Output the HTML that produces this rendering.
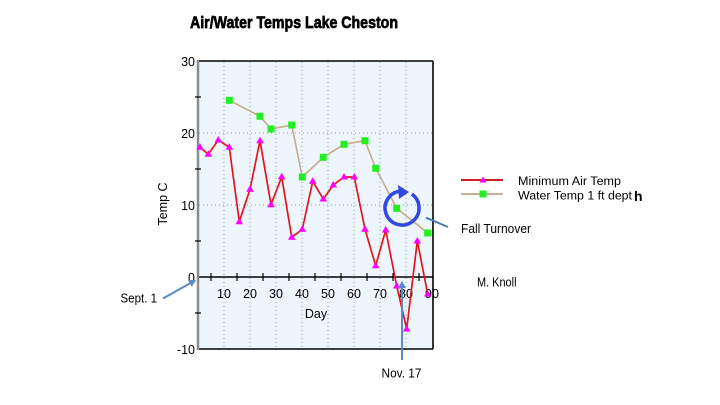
<!DOCTYPE html>
<html><head><meta charset="utf-8"><style>
html,body{margin:0;padding:0;background:#fff;}
svg{display:block;font-family:"Liberation Sans",Arial,sans-serif;}
</style></head><body>
<svg width="720" height="405" viewBox="0 0 720 405" xmlns="http://www.w3.org/2000/svg">
<defs>
<marker id="ah" markerWidth="8" markerHeight="8" refX="6" refY="4" orient="auto" markerUnits="userSpaceOnUse">
<path d="M0,0 L7,4 L0,8 z" fill="#5a8ac6"/>
</marker>
</defs>
<rect width="720" height="405" fill="#fff"/>
<!-- title -->
<text x="190" y="28" font-family="'Liberation Sans Narrow','Liberation Sans',sans-serif" font-weight="bold" font-size="17" textLength="208" lengthAdjust="spacingAndGlyphs" fill="#000" stroke="#000" stroke-width="0.7">Air/Water Temps Lake Cheston</text>
<!-- plot bg -->
<rect x="198" y="61" width="235" height="288" fill="#eef6fd"/>
<!-- grid -->
<g stroke="#9a9a9a" stroke-width="1" stroke-dasharray="1,3">
<line x1="224" y1="62" x2="224" y2="348"/>
<line x1="250" y1="62" x2="250" y2="348"/>
<line x1="276" y1="62" x2="276" y2="348"/>
<line x1="302" y1="62" x2="302" y2="348"/>
<line x1="328" y1="62" x2="328" y2="348"/>
<line x1="354" y1="62" x2="354" y2="348"/>
<line x1="380" y1="62" x2="380" y2="348"/>
<line x1="406" y1="62" x2="406" y2="348"/>
<line x1="199" y1="133" x2="432" y2="133"/>
<line x1="199" y1="205" x2="432" y2="205"/>
</g>
<!-- borders -->
<g stroke="#000" stroke-width="1.6" fill="none">
<line x1="198" y1="61" x2="433" y2="61"/>
<line x1="433" y1="61" x2="433" y2="349"/>
<line x1="198" y1="349" x2="433" y2="349"/>
<line x1="198" y1="277" x2="433" y2="277"/>
</g>
<line x1="198" y1="60" x2="198" y2="350" stroke="#8c8c8c" stroke-width="2.5"/>
<!-- y minor ticks -->
<g stroke="#000" stroke-width="1.2">
<line x1="195" y1="97" x2="201" y2="97"/>
<line x1="195" y1="169" x2="201" y2="169"/>
<line x1="195" y1="241" x2="201" y2="241"/>
<line x1="195" y1="313" x2="201" y2="313"/>
</g>
<!-- x ticks -->
<g stroke="#000" stroke-width="1.2">
<line x1="211" y1="273" x2="211" y2="281"/>
<line x1="237" y1="273" x2="237" y2="281"/>
<line x1="263" y1="273" x2="263" y2="281"/>
<line x1="289" y1="273" x2="289" y2="281"/>
<line x1="315" y1="273" x2="315" y2="281"/>
<line x1="341" y1="273" x2="341" y2="281"/>
<line x1="367" y1="273" x2="367" y2="281"/>
<line x1="393" y1="273" x2="393" y2="281"/>
<line x1="419" y1="273" x2="419" y2="281"/>
</g>
<!-- y labels -->
<g font-size="12.5" fill="#000" text-anchor="end">
<text x="195" y="66">30</text>
<text x="195" y="138">20</text>
<text x="195" y="210">10</text>
<text x="195" y="282">0</text>
<text x="195" y="354">-10</text>
</g>
<!-- x labels -->
<g font-size="12.5" fill="#000" text-anchor="middle">
<text x="224" y="298">10</text>
<text x="250" y="298">20</text>
<text x="276" y="298">30</text>
<text x="302" y="298">40</text>
<text x="328" y="298">50</text>
<text x="354" y="298">60</text>
<text x="380" y="298">70</text>
<text x="406" y="298">80</text>
<text x="432" y="298">90</text>
<text x="316" y="318">Day</text>
</g>
<text transform="translate(167,204) rotate(-90)" font-size="12.5" text-anchor="middle" fill="#000">Temp C</text>
<!-- water series -->
<polyline fill="none" stroke="#c8ab8a" stroke-width="1.6" points="229.3,100.3 260,116.3 271,129 291.7,125 302.3,177 323.3,157.3 344,144.3 365,140.7 375.7,168.3 396.7,208.3 427.7,233"/>
<g fill="#22ee22">
<rect x="225.8" y="96.8" width="7" height="7"/>
<rect x="256.5" y="112.8" width="7" height="7"/>
<rect x="267.5" y="125.5" width="7" height="7"/>
<rect x="288.2" y="121.5" width="7" height="7"/>
<rect x="298.8" y="173.5" width="7" height="7"/>
<rect x="319.8" y="153.8" width="7" height="7"/>
<rect x="340.5" y="140.8" width="7" height="7"/>
<rect x="361.5" y="137.2" width="7" height="7"/>
<rect x="372.2" y="164.8" width="7" height="7"/>
<rect x="393.2" y="204.8" width="7" height="7"/>
<rect x="424.2" y="229.5" width="7" height="7"/>
</g>
<!-- air series -->
<polyline fill="none" stroke="#e8141c" stroke-width="1.7" points="200,147.3 208.3,154.3 218.3,140 229.3,147.3 239.3,221.7 250,189.3 260,140.7 271,204.7 281.7,176.7 291.7,237.3 302.3,229.3 312.7,181.3 323.3,199 333.3,185 344,177 354.3,177 365,229.3 375.7,265.7 385.7,230 396.7,286 406.7,329 417.3,241 427.7,294"/>
<g fill="#ff00ff">
<path d="M200,143.3 l3.8,6.5 h-7.6z"/>
<path d="M208.3,150.3 l3.8,6.5 h-7.6z"/>
<path d="M218.3,136 l3.8,6.5 h-7.6z"/>
<path d="M229.3,143.3 l3.8,6.5 h-7.6z"/>
<path d="M239.3,217.7 l3.8,6.5 h-7.6z"/>
<path d="M250,185.3 l3.8,6.5 h-7.6z"/>
<path d="M260,136.7 l3.8,6.5 h-7.6z"/>
<path d="M271,200.7 l3.8,6.5 h-7.6z"/>
<path d="M281.7,172.7 l3.8,6.5 h-7.6z"/>
<path d="M291.7,233.3 l3.8,6.5 h-7.6z"/>
<path d="M302.3,225.3 l3.8,6.5 h-7.6z"/>
<path d="M312.7,177.3 l3.8,6.5 h-7.6z"/>
<path d="M323.3,195 l3.8,6.5 h-7.6z"/>
<path d="M333.3,181 l3.8,6.5 h-7.6z"/>
<path d="M344,173 l3.8,6.5 h-7.6z"/>
<path d="M354.3,173 l3.8,6.5 h-7.6z"/>
<path d="M365,225.3 l3.8,6.5 h-7.6z"/>
<path d="M375.7,261.7 l3.8,6.5 h-7.6z"/>
<path d="M385.7,226 l3.8,6.5 h-7.6z"/>
<path d="M396.7,282 l3.8,6.5 h-7.6z"/>
<path d="M406.7,325 l3.8,6.5 h-7.6z"/>
<path d="M417.3,237 l3.8,6.5 h-7.6z"/>
<path d="M427.7,290 l3.8,6.5 h-7.6z"/>
</g>
<!-- turnover circle -->
<path d="M411.8,194.1 A17,17 0 1 1 400.5,191.1" fill="none" stroke="#3348e0" stroke-width="3.5"/>
<path d="M409,192 L398,185 L399,199 z" fill="#3348e0"/>
<line x1="426" y1="217.7" x2="448" y2="227" stroke="#4a78b8" stroke-width="2"/>
<text x="461" y="233" font-size="12.5" fill="#000" textLength="70" lengthAdjust="spacingAndGlyphs">Fall Turnover</text>
<!-- legend -->
<line x1="461" y1="180" x2="503" y2="180" stroke="#d01c24" stroke-width="2"/>
<path d="M483,176.5 l3.5,6 h-7z" fill="#ff00ff"/>
<line x1="461" y1="194" x2="503" y2="194" stroke="#c8b096" stroke-width="2"/>
<rect x="479.5" y="190.5" width="7" height="7" fill="#22ee22"/>
<text x="518" y="185" font-size="12.3" fill="#000" textLength="103" lengthAdjust="spacingAndGlyphs">Minimum Air Temp</text>
<text x="518" y="199.5" font-size="12.3" fill="#000" textLength="114" lengthAdjust="spacingAndGlyphs">Water Temp 1 ft dept</text>
<text x="634" y="201" font-size="14" font-weight="bold" fill="#000">h</text>
<!-- annotations -->
<text x="120.5" y="302.5" font-size="12.5" fill="#000" textLength="36.5" lengthAdjust="spacingAndGlyphs">Sept. 1</text>
<line x1="163" y1="298.5" x2="195" y2="280.5" stroke="#5a8ac6" stroke-width="2" marker-end="url(#ah)"/>
<text x="381.5" y="377.5" font-size="12.5" fill="#000" textLength="40" lengthAdjust="spacingAndGlyphs">Nov. 17</text>
<line x1="402" y1="360" x2="402" y2="282" stroke="#5a8ac6" stroke-width="2" marker-end="url(#ah)"/>
<text x="477" y="286.5" font-size="12.5" fill="#000" textLength="39.5" lengthAdjust="spacingAndGlyphs">M. Knoll</text>
</svg>
</body></html>
